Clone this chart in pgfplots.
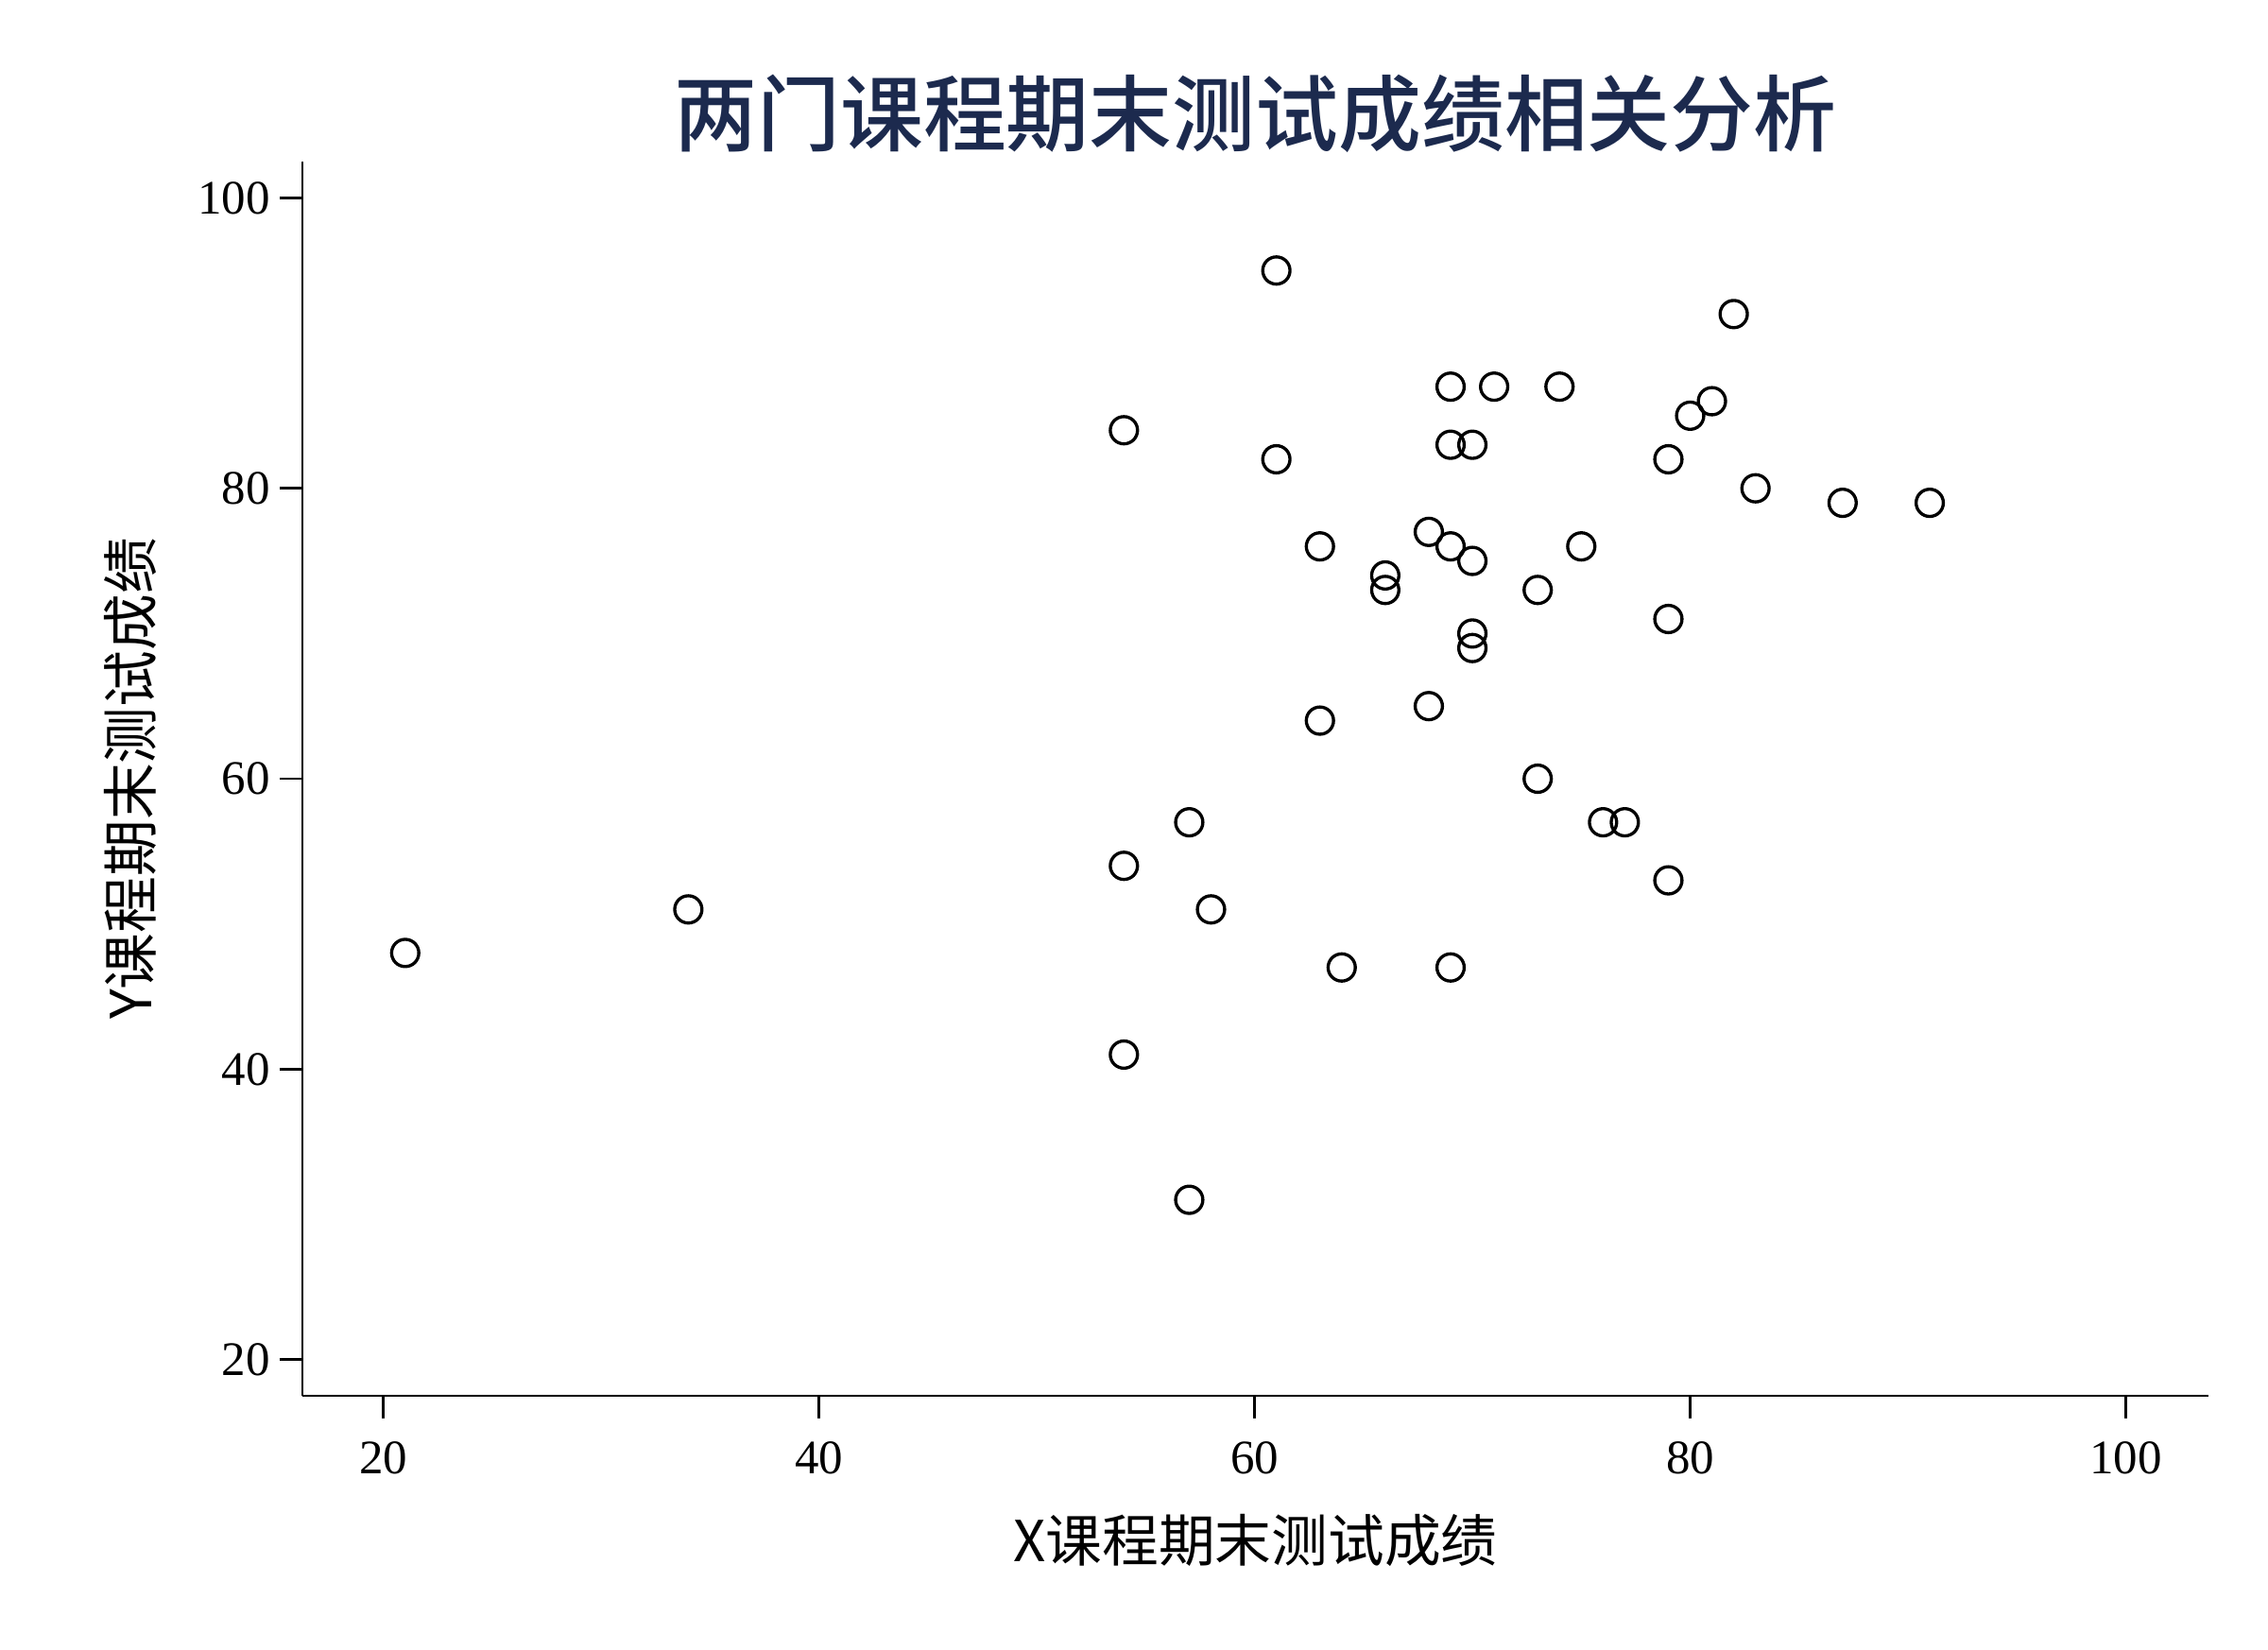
\documentclass[border=0pt]{standalone}
\usepackage{fontspec}
\setmainfont{Liberation Serif}
\newfontfamily\cjk{Noto Sans CJK SC}
\newfontfamily\cjkm{Noto Sans CJK SC Medium}
\usepackage{pgfplots}
\pgfplotsset{compat=1.18}
\definecolor{titlenavy}{RGB}{28,42,78}
\begin{document}
\begin{tikzpicture}
\begin{axis}[
  at={(0,0)}, anchor=south west,
  scale only axis,
  width=20.17cm, height=13.06cm,
  xmin=16.28, xmax=103.8,
  ymin=17.5, ymax=102.5,
  axis lines=left,
  axis line style={-, line width=0.8pt, black},
  xtick={20,40,60,80,100},
  ytick={20,40,60,80,100},
  tick align=outside,
  major tick length=0.24cm,
  tick style={line width=0.8pt, black},
  /pgf/number format/assume math mode=true,
  ticklabel style={font=\fontsize{14.5}{16}\selectfont},
  xticklabel style={yshift=-0.12cm},
  yticklabel style={xshift=0.02cm},
  xlabel={\cjk\fontsize{17}{20}\selectfont X课程期末测试成绩},
  ylabel={\cjk\fontsize{17}{20}\selectfont Y课程期末测试成绩},
  xlabel style={at={(axis description cs:0.5,0)}, anchor=center, yshift=-1.53cm},
  every axis y label/.style={at={(axis description cs:-0.0902,0.5)}, anchor=center, rotate=90},
  title={\cjkm\fontsize{25}{30}\selectfont\color{titlenavy}两门课程期末测试成绩相关分析},
  title style={at={(axis description cs:0.5,1)}, anchor=center, yshift=0.3cm},
  clip=false,
]
\addplot[only marks, mark=o, mark size=4.1pt, line width=0.95pt, black] coordinates {
(21,48) (34,51) (54,84) (54,54) (54,41) (57,57) (57,31) (58,51)
(61,95) (61,82) (63,76) (63,64) (64,47) (66,74) (66,73) (68,77)
(68,65) (69,87) (69,83) (69,76) (69,47) (70,83) (70,75) (70,70)
(70,69) (71,87) (73,73) (73,60) (74,87) (75,76) (76,57) (77,57)
(79,82) (79,71) (79,53) (80,85) (81,86) (82,92) (83,80) (87,79)
(91,79)
};
\end{axis}
\pgfresetboundingbox
\path[use as bounding box] (-3.20cm,-2.68cm) rectangle (20.80cm,14.77cm);
\end{tikzpicture}
\end{document}
